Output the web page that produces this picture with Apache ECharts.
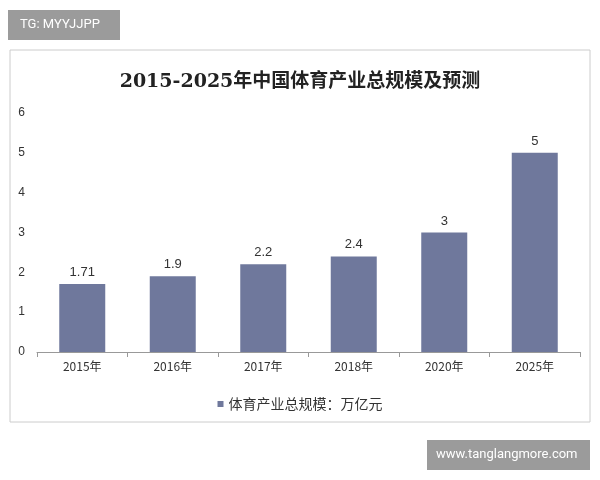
<!DOCTYPE html>
<html><head><meta charset="utf-8">
<script src="https://cdn.jsdelivr.net/npm/echarts@6/dist/echarts.min.js"></script>
<style>html,body{margin:0;background:#fff}#c{width:600px;height:480px}</style>
</head><body><div id="c"></div>
<script>
const years = ['2015年', '2016年', '2017年', '2018年', '2020年', '2025年'];
const scale = [1.71, 1.9, 2.2, 2.4, 3, 5];
const seriesName = '体育产业总规模：万亿元';
const yTicks = [0, 1, 2, 3, 4, 5, 6];

const chart = echarts.init(document.getElementById('c'));
chart.setOption({
    animation: false,
    title: {
        text: '2015-2025年中国体育产业总规模及预测',
        left: 'center', top: 68,
        textStyle: { fontFamily: 'DejaVu Serif, Noto Sans CJK SC', fontWeight: 'bold', fontSize: 19, color: '#222' }
    },
    legend: {
        bottom: 64, left: 'center', icon: 'rect', itemWidth: 6, itemHeight: 6,
        textStyle: { fontSize: 14, color: '#333', fontFamily: 'Noto Sans CJK SC' },
        data: [seriesName]
    },
    grid: { left: 37, right: 20, top: 113, bottom: 128 },
    xAxis: {
        type: 'category', data: years,
        axisLine: { lineStyle: { color: '#999' } },
        axisTick: { show: true, alignWithLabel: false, lineStyle: { color: '#999' } },
        axisLabel: { fontSize: 12, color: '#333', fontFamily: 'Noto Sans CJK SC' }
    },
    yAxis: {
        type: 'value', min: yTicks[0], max: yTicks[yTicks.length - 1], interval: 1,
        axisLine: { show: false }, axisTick: { show: false },
        splitLine: { show: false },
        axisLabel: { fontSize: 12, color: '#333', margin: 12 }
    },
    series: [{
        name: seriesName, type: 'bar', data: scale, barWidth: 46,
        itemStyle: { color: '#6f789c' },
        label: { show: true, position: 'top', fontSize: 13, color: '#333' }
    }],
    graphic: [
        { type: 'rect', shape: { x: 10, y: 50, width: 580, height: 372 }, style: { fill: 'none', stroke: '#ccc', lineWidth: 1 } },
        { type: 'rect', shape: { x: 8, y: 10, width: 112, height: 30 }, style: { fill: '#9b9b9b' } },
        { type: 'text', x: 20, y: 18, style: { text: 'TG: MYYJJPP', fill: '#fff', font: '13px Roboto' } },
        { type: 'rect', shape: { x: 427, y: 440, width: 163, height: 30 }, style: { fill: '#9b9b9b' } },
        { type: 'text', x: 436, y: 448, style: { text: 'www.tanglangmore.com', fill: '#fff', font: '13px Roboto' } }
    ]
});
</script></body></html>
